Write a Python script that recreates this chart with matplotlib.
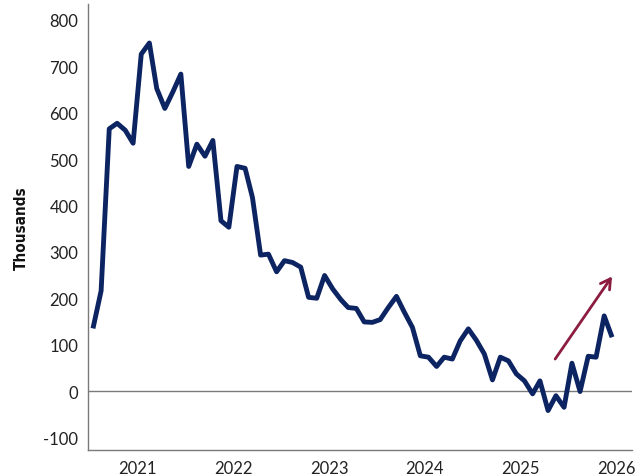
import matplotlib
matplotlib.use("Agg")
import matplotlib.pyplot as plt
import pandas as pd

# Monthly values, Jul 2020 - Dec 2025 (thousands)
months = pd.date_range("2020-07-01", periods=66, freq="MS") + pd.Timedelta(days=14)
values = [
    135, 216, 565, 577, 562, 534, 726, 750, 652, 609, 644, 683,
    484, 532, 506, 540, 367, 353, 484, 480, 417, 293, 295, 257,
    281, 277, 267, 202, 200, 249, 220, 197, 180, 178, 149, 148,
    154, 180, 204, 170, 137, 76, 73, 53, 73, 69, 108, 134,
    110, 80, 24, 73, 65, 37, 22, -6, 22, -42, -10, -35,
    60, -1, 75, 73, 162, 116,
]
year_ticks = pd.to_datetime(["2021-01-01", "2022-01-01", "2023-01-01",
                             "2024-01-01", "2025-01-01", "2026-01-01"])
year_labels = ["2021", "2022", "2023", "2024", "2025", "2026"]
y_ticks = [-100, 0, 100, 200, 300, 400, 500, 600, 700, 800]

# trend arrow (start, end)
arrow_start = (pd.Timestamp("2025-05-12"), 69)
arrow_end = (pd.Timestamp("2025-12-15"), 247)

NAVY = "#0c2461"
MAROON = "#8c1d40"
GREY = "#7a7a7a"

plt.rcParams["font.family"] = ["Lato", "DejaVu Sans"]
plt.rcParams["axes.unicode_minus"] = False

fig = plt.figure(figsize=(6.4, 4.77), dpi=100)
ax = fig.add_axes([0.1375, 0.0545, 0.85, 0.935])

ax.axhline(0, color=GREY, lw=1.0, zorder=1)
ax.plot(months, values, color=NAVY, lw=3.5, solid_capstyle="butt", zorder=3)

ax.annotate("", xy=arrow_end, xytext=arrow_start,
            arrowprops=dict(arrowstyle="->,head_length=0.7,head_width=0.4",
                            color=MAROON, lw=2.0, shrinkA=0, shrinkB=0),
            zorder=4)

ax.set_xlim(pd.Timestamp("2020-06-26"), pd.Timestamp("2026-03-01"))
ax.set_ylim(-127, 834)
ax.set_xticks(year_ticks)
ax.set_xticklabels(year_labels)
ax.set_yticks(y_ticks)
ax.tick_params(length=0, labelsize=12, labelcolor="#222222", pad=7)

for side in ["top", "right"]:
    ax.spines[side].set_visible(False)
for side in ["left", "bottom"]:
    ax.spines[side].set_color(GREY)
    ax.spines[side].set_linewidth(1.0)

fig.text(0.033, 0.521, "Thousands", rotation=90, ha="center", va="center",
         fontsize=11, fontweight="bold", fontstretch="condensed",
         family="Liberation Sans Narrow", color="#111111")

fig.savefig("out.png", dpi=100)
